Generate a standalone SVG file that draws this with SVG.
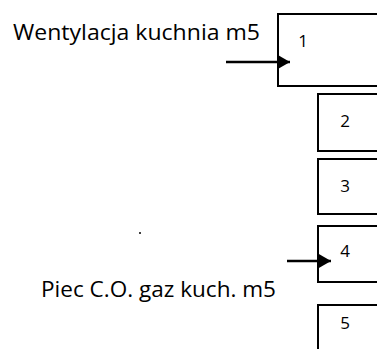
<svg xmlns="http://www.w3.org/2000/svg" width="377" height="349" viewBox="0 0 377 349">
<defs>
<style>
.box{fill:#fff;stroke:#000;stroke-width:2}
.num{font-family:"Open Sans","DejaVu Sans",sans-serif;font-size:17px;fill:#000;text-anchor:middle}
.lbl{font-family:"Open Sans","DejaVu Sans",sans-serif;font-size:22px;fill:#000}
.conn{stroke:#000;stroke-width:2.5;fill:none}
</style>
<marker id="ah" viewBox="0 0 13 15" refX="13" refY="7.5" markerWidth="13" markerHeight="15" markerUnits="userSpaceOnUse" orient="auto">
<path d="M0,0 L13,7.5 L0,15 z" fill="#000"/>
</marker>
</defs>
<rect width="377" height="349" fill="#fff"/>
<g id="node1"><rect class="box" x="278" y="14" width="120" height="72"/><text class="num" x="303" y="47">1</text></g>
<g id="node2"><rect class="box" x="318" y="94" width="80" height="57"/><text class="num" x="345" y="127">2</text></g>
<g id="node3"><rect class="box" x="318" y="159" width="80" height="55"/><text class="num" x="345" y="192">3</text></g>
<g id="node4"><rect class="box" x="318" y="226" width="80" height="56"/><text class="num" x="345" y="257">4</text></g>
<g id="node5"><rect class="box" x="318" y="305" width="80" height="60"/><text class="num" x="345" y="329">5</text></g>
<g id="label1"><text class="lbl" x="13" y="40" textLength="247" lengthAdjust="spacingAndGlyphs">Wentylacja kuchnia m5</text></g>
<g id="label2"><text class="lbl" x="41" y="297" textLength="235" lengthAdjust="spacingAndGlyphs">Piec C.O. gaz kuch. m5</text></g>
<circle cx="140" cy="233" r="1" fill="#000"/>
<g id="connectors">
<line class="conn" x1="226" y1="62" x2="290" y2="62" marker-end="url(#ah)"/>
<line class="conn" x1="287" y1="261" x2="331" y2="261" marker-end="url(#ah)"/>
</g>
</svg>
